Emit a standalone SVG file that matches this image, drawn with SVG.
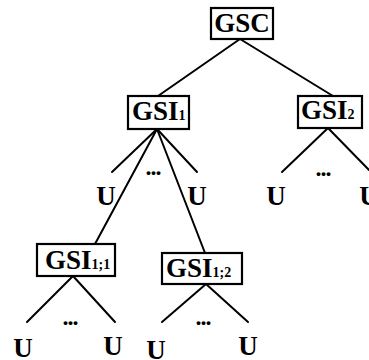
<svg xmlns="http://www.w3.org/2000/svg" width="369" height="360" viewBox="0 0 369 360">
  <style>
    .box { fill: #fff; stroke: #000; stroke-width: 2.2; }
    .edge { stroke: #000; stroke-width: 2; fill: none; stroke-linecap: round; }
    .lbl { font-family: "Liberation Serif", "Times New Roman", serif; font-weight: bold; font-size: 27px; fill: #000; }
    .sub { font-size: 14px; }
    .dots { font-family: "Liberation Serif", "Times New Roman", serif; font-weight: bold; font-size: 24px; fill: #000; text-anchor: middle; letter-spacing: -1px; }
    .u { text-anchor: middle; }
  </style>
  <rect width="369" height="360" fill="#fff"/>

  <!-- tree edges -->
  <g id="connectors">
    <line class="edge" x1="240" y1="39" x2="158" y2="96"/>
    <line class="edge" x1="240" y1="39" x2="333" y2="96"/>
    <line class="edge" x1="157" y1="129" x2="112" y2="172"/>
    <line class="edge" x1="157" y1="129" x2="197" y2="172"/>
    <line class="edge" x1="157" y1="129" x2="95" y2="244"/>
    <line class="edge" x1="157" y1="129" x2="205" y2="253"/>
    <line class="edge" x1="328" y1="128" x2="282" y2="172"/>
    <line class="edge" x1="328" y1="128" x2="369" y2="170"/>
    <line class="edge" x1="73" y1="276" x2="27" y2="322"/>
    <line class="edge" x1="73" y1="276" x2="115" y2="322"/>
    <line class="edge" x1="206" y1="284" x2="162" y2="322"/>
    <line class="edge" x1="206" y1="284" x2="248" y2="322"/>
  </g>

  <g id="gsc">
    <rect class="box" x="211" y="8" width="62" height="31"/>
    <text class="lbl" x="242" y="32" text-anchor="middle">GSC</text>
  </g>

  <g id="gsi1">
    <rect class="box" x="128" y="96" width="61" height="33"/>
    <text class="lbl" x="132" y="120">GSI<tspan class="sub">1</tspan></text>
  </g>

  <g id="gsi2">
    <rect class="box" x="298" y="96" width="64" height="32"/>
    <text class="lbl" x="301" y="119">GSI<tspan class="sub">2</tspan></text>
  </g>

  <g id="gsi11">
    <rect class="box" x="37" y="244" width="78" height="32"/>
    <text class="lbl" x="45" y="269">GSI<tspan class="sub">1;1</tspan></text>
  </g>

  <g id="gsi12">
    <rect class="box" x="162" y="253" width="80" height="31"/>
    <text class="lbl" x="166" y="277">GSI<tspan class="sub">1;2</tspan></text>
  </g>

  <!-- leaves -->
  <g id="leaves-gsi1">
    <text class="lbl u" x="106" y="205">U</text>
    <text class="dots" x="153" y="175">...</text>
    <text class="lbl u" x="197" y="205">U</text>
  </g>
  <g id="leaves-gsi2">
    <text class="lbl u" x="276" y="205">U</text>
    <text class="dots" x="323" y="176">...</text>
    <text class="lbl u" x="369" y="205">U</text>
  </g>
  <g id="leaves-gsi11">
    <text class="lbl u" x="23" y="357">U</text>
    <text class="dots" x="70" y="325">...</text>
    <text class="lbl u" x="113" y="355">U</text>
  </g>
  <g id="leaves-gsi12">
    <text class="lbl u" x="156" y="359">U</text>
    <text class="dots" x="203" y="325">...</text>
    <text class="lbl u" x="248" y="355">U</text>
  </g>
</svg>
